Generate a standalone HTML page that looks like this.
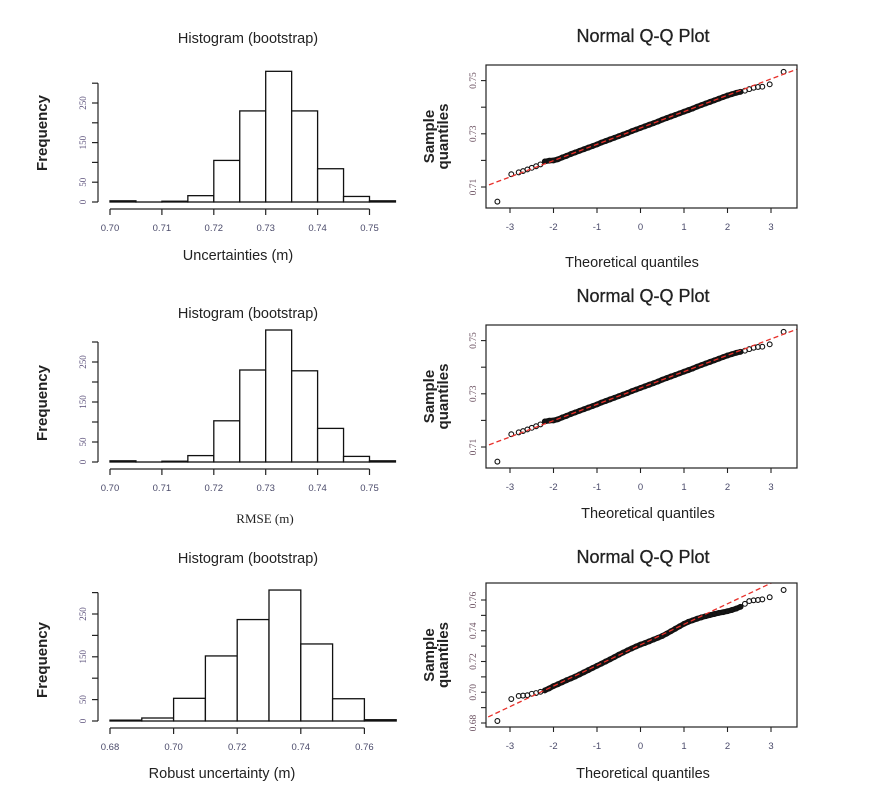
<!DOCTYPE html>
<html><head><meta charset="utf-8">
<style>
html,body{margin:0;padding:0;background:#fff;}
svg{display:block;font-family:"Liberation Sans",sans-serif;}
</style></head>
<body>
<svg id="chart" width="872" height="796" viewBox="0 0 872 796" xmlns="http://www.w3.org/2000/svg"></svg>
<script>
// ---- Histogram data ----
const h1Edges = [0.700,0.705,0.710,0.715,0.720,0.725,0.730,0.735,0.740,0.745,0.750,0.755];
const h1Counts = [3,0,2,16,105,230,330,230,84,14,3];
const h2Edges = [0.700,0.705,0.710,0.715,0.720,0.725,0.730,0.735,0.740,0.745,0.750,0.755];
const h2Counts = [3,0,2,16,103,230,330,228,84,14,3];
const h3Edges = [0.68,0.69,0.70,0.71,0.72,0.73,0.74,0.75,0.76,0.77];
const h3Counts = [2,7,53,152,237,306,180,52,3];
const h12XTicks = [0.70,0.71,0.72,0.73,0.74,0.75];
const h3XTicks = [0.68,0.70,0.72,0.74,0.76];
const hYTicks = [0,50,100,150,200,250,300];
const hYLabels = ["0","50","","150","","250",""];
// ---- QQ data ----
const qqTheo = [-3.29,-2.97,-2.8,-2.7,-2.6,-2.5,-2.4,-2.3,-2.2,-2.1,
 -2.0,-1.9,-1.8,-1.7,-1.6,-1.5,-1.4,-1.3,-1.2,-1.1,-1.0,-0.9,-0.8,-0.7,-0.6,-0.5,-0.4,-0.3,-0.2,-0.1,
 0,0.1,0.2,0.3,0.4,0.5,0.6,0.7,0.8,0.9,1.0,1.1,1.2,1.3,1.4,1.5,1.6,1.7,1.8,1.9,2.0,
 2.1,2.2,2.3,2.4,2.5,2.6,2.7,2.8,2.97,3.29];
const qq1Sample = [0.7045,0.7148,0.7155,0.7160,0.7166,0.7172,0.7178,0.7185,0.7196,0.7199,
 0.7200,0.7204,0.7211,0.7217,0.7224,0.7230,0.7236,0.7242,0.7248,0.7254,0.7260,0.7267,0.7273,0.7279,0.7285,0.7291,0.7297,0.7303,0.7310,0.7316,
 0.7322,0.7328,0.7334,0.7340,0.7346,0.7353,0.7359,0.7365,0.7371,0.7377,0.7383,0.7389,0.7395,0.7402,0.7408,0.7414,0.7420,0.7426,0.7432,0.7438,0.7444,
 0.7449,0.7454,0.7458,0.7462,0.7468,0.7473,0.7476,0.7477,0.7486,0.7533];
const qq2Sample = [0.7045,0.7148,0.7155,0.7160,0.7166,0.7172,0.7178,0.7185,0.7196,0.7199,
 0.7200,0.7204,0.7211,0.7217,0.7224,0.7230,0.7236,0.7242,0.7248,0.7254,0.7260,0.7267,0.7273,0.7279,0.7285,0.7291,0.7297,0.7303,0.7310,0.7316,
 0.7322,0.7328,0.7334,0.7340,0.7346,0.7353,0.7359,0.7365,0.7371,0.7377,0.7383,0.7389,0.7395,0.7402,0.7408,0.7414,0.7420,0.7426,0.7432,0.7438,0.7444,
 0.7449,0.7454,0.7458,0.7462,0.7468,0.7473,0.7476,0.7477,0.7486,0.7533];
const qq3Sample = [0.6813,0.6956,0.6976,0.6978,0.6981,0.6990,0.6995,0.7003,0.7012,0.7025,
 0.7040,0.7052,0.7065,0.7078,0.7090,0.7102,0.7116,0.7130,0.7144,0.7158,0.7172,0.7186,0.7200,0.7214,0.7229,0.7244,0.7258,0.7272,0.7285,0.7298,
 0.7310,0.7320,0.7331,0.7343,0.7354,0.7366,0.7381,0.7397,0.7413,0.7429,0.7445,0.7458,0.7468,0.7478,0.7487,0.7495,0.7502,0.7509,0.7516,0.7521,0.7527,
 0.7535,0.7544,0.7556,0.7575,0.7593,0.7598,0.7600,0.7604,0.7618,0.7665];
const qqLineIntercept = [0.7322,0.7322,0.7308];
const qqLineSlope = [0.00614,0.00614,0.01338];
const qqXTicks = [-3,-2,-1,0,1,2,3];
const qq12YTicks = [0.71,0.72,0.73,0.74,0.75];
const qq12YLabels = ["0.71","","0.73","","0.75"];
const qq3YTicks = [0.68,0.69,0.70,0.71,0.72,0.73,0.74,0.75,0.76];
const qq3YLabels = ["0.68","","0.70","","0.72","","0.74","","0.76"];

const NS="http://www.w3.org/2000/svg";
const svg=document.getElementById('chart');
function mk(tag,attrs,parent){const e=document.createElementNS(NS,tag);for(const k in attrs)e.setAttribute(k,attrs[k]);(parent||svg).appendChild(e);return e;}
function txt(s,attrs,parent){const e=mk('text',attrs,parent);e.textContent=s;return e;}

function hist(cfg){
  const g=mk('g',{});
  
  
  const sx=v=>cfg.x0+(v-cfg.xv0)*cfg.xs;
  const sy=v=>cfg.y0-v*cfg.ys;
  cfg.counts.forEach((c,i)=>{
    const r=mk('rect',{x:sx(cfg.edges[i]),y:sy(c),width:sx(cfg.edges[i+1])-sx(cfg.edges[i]),height:Math.max(c*cfg.ys,0.01),fill:'#fff',stroke:'#111','stroke-width':1.3},g);
    
    
  });
  const ya=mk('g',{},g);
  
  
  mk('line',{x1:cfg.yax,x2:cfg.yax,y1:sy(hYTicks[0]),y2:sy(hYTicks[hYTicks.length-1]),stroke:'#222','stroke-width':1.2},ya);
  hYTicks.forEach((t,i)=>{
    mk('line',{x1:cfg.yax-6,x2:cfg.yax,y1:sy(t),y2:sy(t),stroke:'#222','stroke-width':1.2},ya);
    if(hYLabels[i]) txt(hYLabels[i],{x:cfg.yax-12,y:sy(t),transform:`rotate(-90 ${cfg.yax-12} ${sy(t)})`,'text-anchor':'middle','font-size':9,fill:'#5a4f7a','font-family':'Liberation Serif, serif'},ya);
  });
  const xa=mk('g',{},g);
  
  
  const tk=cfg.xticks;
  mk('line',{x1:sx(tk[0]),x2:sx(tk[tk.length-1]),y1:cfg.xay,y2:cfg.xay,stroke:'#222','stroke-width':1.2},xa);
  tk.forEach(t=>{
    mk('line',{x1:sx(t),x2:sx(t),y1:cfg.xay,y2:cfg.xay+6,stroke:'#222','stroke-width':1.2},xa);
    txt(t.toFixed(2),{x:sx(t),y:cfg.xay+22,'text-anchor':'middle','font-size':9.5,fill:'#4a4a6a'},xa);
  });
  const tt=txt('Histogram (bootstrap)',{x:cfg.tx,y:cfg.ty,'text-anchor':'middle','font-size':14.5,fill:'#222'},g);
  
  
  const yl=txt('Frequency',{x:47,y:cfg.fy,transform:`rotate(-90 47 ${cfg.fy})`,'text-anchor':'middle','font-size':15,'font-weight':'bold',fill:'#222'},g);
  
  
  const xl=txt(cfg.xlabel,{x:cfg.xlx,y:cfg.xly,'text-anchor':'middle','font-size':cfg.serif?13:14.5,fill:'#222','font-family':cfg.serif?'Liberation Serif, serif':'Liberation Sans, sans-serif'},g);
  
  
}

function qq(cfg){
  const g=mk('g',{});
  
  
  const sx=v=>640.5+v*43.5;
  const sy=v=>cfg.yRef-(v-cfg.vRef)*cfg.ys;
  const L=486,R=797;
  const cp='clip'+cfg.idx;
  const cpel=mk('clipPath',{id:cp},g);
  mk('rect',{x:L,y:cfg.top,width:R-L,height:cfg.bot-cfg.top},cpel);
  // dense band of overlapping points (central region)
  let pts=[];
  qqTheo.forEach((t,i)=>{ if(t>=-2.25 && t<=2.35) pts.push(sx(t)+','+sy(cfg.sample[i])); });
  const band=mk('polyline',{points:pts.join(' '),fill:'none',stroke:'#151515','stroke-width':5.5,'stroke-linecap':'round','stroke-linejoin':'round'},g);
  
  
  qqTheo.forEach((t,i)=>{
    const c=mk('circle',{cx:sx(t),cy:sy(cfg.sample[i]),r:2.4,fill:'none',stroke:'#111','stroke-width':1.1},g);
    
    
  });
  const a=qqLineIntercept[cfg.idx],b=qqLineSlope[cfg.idx];
  const ln=mk('line',{x1:sx(-4),y1:sy(a-4*b),x2:sx(4),y2:sy(a+4*b),stroke:'#e8302a','stroke-width':1.3,'stroke-dasharray':'5,3','clip-path':`url(#${cp})`},g);
  
  
  mk('rect',{x:L,y:cfg.top,width:R-L,height:cfg.bot-cfg.top,fill:'none',stroke:'#222','stroke-width':1.2},g);
  const xa=mk('g',{},g);
  
  
  qqXTicks.forEach(t=>{
    mk('line',{x1:sx(t),x2:sx(t),y1:cfg.bot,y2:cfg.bot+5,stroke:'#222','stroke-width':1.1},xa);
    txt(String(t),{x:sx(t),y:cfg.bot+22,'text-anchor':'middle','font-size':9.5,fill:'#4a4a6a'},xa);
  });
  const ya=mk('g',{},g);
  
  
  cfg.yticks.forEach((t,i)=>{
    mk('line',{x1:L-5,x2:L,y1:sy(t),y2:sy(t),stroke:'#222','stroke-width':1.1},ya);
    if(cfg.ylabels[i]) txt(cfg.ylabels[i],{x:L-10,y:sy(t),transform:`rotate(-90 ${L-10} ${sy(t)})`,'text-anchor':'middle','font-size':9.5,fill:'#6a5060','font-family':'Liberation Serif, serif'},ya);
  });
  const tt=txt('Normal Q-Q Plot',{x:643,y:cfg.ty,'text-anchor':'middle','font-size':18,fill:'#222','stroke':'#222','stroke-width':0.3},g);
  
  
  const cy=(cfg.top+cfg.bot)/2;
  const yl=txt('Sample',{x:434,y:cy,transform:`rotate(-90 434 ${cy})`,'text-anchor':'middle','font-size':15,'font-weight':'bold',fill:'#222'},g);
  
  
  const yl2=txt('quantiles',{x:448,y:cy,transform:`rotate(-90 448 ${cy})`,'text-anchor':'middle','font-size':15,'font-weight':'bold',fill:'#222'},g);
  
  
  const xl=txt('Theoretical quantiles',{x:cfg.xlx,y:cfg.xly,'text-anchor':'middle','font-size':14.5,fill:'#222'},g);
  
  
}

hist({name:'histogram-uncertainties',edges:h1Edges,counts:h1Counts,x0:110,xv0:0.70,xs:5190,y0:202,ys:0.396,yax:98,xay:209,xticks:h12XTicks,tx:248,ty:43,fy:133,xlabel:'Uncertainties (m)',xlx:238,xly:260});
hist({name:'histogram-rmse',edges:h2Edges,counts:h2Counts,x0:110,xv0:0.70,xs:5190,y0:462,ys:0.40,yax:98,xay:469,xticks:h12XTicks,tx:248,ty:318,fy:403,xlabel:'RMSE (m)',xlx:265,xly:523,serif:true});
hist({name:'histogram-robust',edges:h3Edges,counts:h3Counts,x0:110,xv0:0.68,xs:3180,y0:721,ys:0.428,yax:98,xay:728,xticks:h3XTicks,tx:248,ty:563,fy:660,xlabel:'Robust uncertainty (m)',xlx:222,xly:778});

qq({name:'qq-plot-uncertainties',idx:0,sample:qq1Sample,top:65,bot:208,yRef:187,vRef:0.71,ys:2660,yticks:qq12YTicks,ylabels:qq12YLabels,ty:42,xlx:632,xly:267});
qq({name:'qq-plot-rmse',idx:1,sample:qq2Sample,top:325,bot:468,yRef:447,vRef:0.71,ys:2660,yticks:qq12YTicks,ylabels:qq12YLabels,ty:302,xlx:648,xly:518});
qq({name:'qq-plot-robust',idx:2,sample:qq3Sample,top:583,bot:727,yRef:723,vRef:0.68,ys:1537.5,yticks:qq3YTicks,ylabels:qq3YLabels,ty:563,xlx:643,xly:778});
</script>
</body></html>
